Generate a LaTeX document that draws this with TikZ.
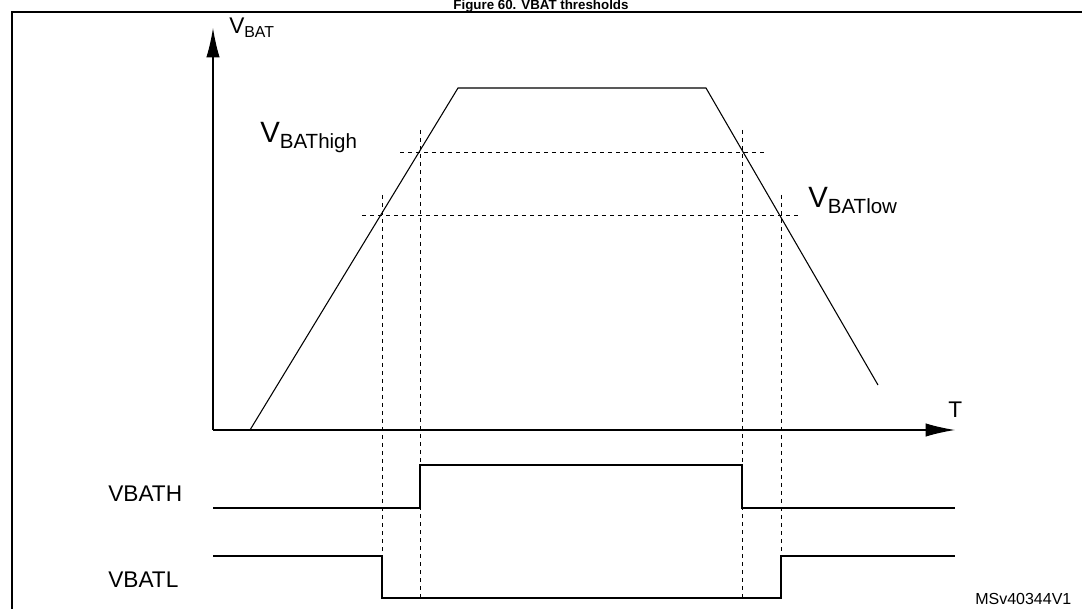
\documentclass[tikz,border=0pt]{standalone}
\usepackage{fontspec}
\setmainfont{Liberation Sans}
\usetikzlibrary{arrows.meta}
\begin{document}
\begin{tikzpicture}[x=0.75pt,y=-0.75pt,
  guide/.style={dashed, thin},
  sig/.style={line width=0.8pt},
  lbl/.style={font=\fontsize{17}{20}\selectfont, inner sep=0pt}]
  \useasboundingbox (0,0) rectangle (1082,609);
  % title and frame
  \node[font=\fontsize{10}{12}\selectfont\bfseries, anchor=base] (title) at (541,10) {Figure 60. VBAT thresholds};
  \draw[line width=1pt] (12,609) -- (12,12) -- (1082,12);
  % axes
  \coordinate (o) at (213,430);
  \coordinate (ytop) at (213,28);
  \coordinate (xend) at (955,430);
  \draw[sig, -{Latex[length=22pt,width=10pt]}] (o) -- (ytop);
  \draw[sig, -{Latex[length=22pt,width=10pt]}] (o) -- (xend);
  \node[lbl, anchor=base west] (vbat) at (229,34) {V\textsubscript{BAT}};
  \node[lbl, anchor=base west] (t) at (948,418) {T};
  % battery voltage
  \draw[sig] (250,430) -- (458,88) -- (706,88) -- (878,385);
  % thresholds
  \draw[guide] (400,152) -- (765,152);
  \draw[guide] (362,215) -- (800,215);
  \node[lbl, anchor=base west, font=\fontsize{22}{26}\selectfont] (hi) at (260,143) {V\textsubscript{BAThigh}};
  \node[lbl, anchor=base west, font=\fontsize{22}{26}\selectfont] (lo) at (808,208) {V\textsubscript{BATlow}};
  \foreach \xx/\yy in {382/195, 420/130, 742/130, 781/195}
    \draw[guide] (\xx,\yy) -- (\xx,598);
  % output signals
  \draw[sig] (213,508) -- (420,508) -- (420,465) -- (742,465) -- (742,508) -- (955,508);
  \draw[sig] (213,556) -- (382,556) -- (382,598) -- (781,598) -- (781,556) -- (955,556);
  \node[lbl, anchor=base west] (vbath) at (108,502) {VBATH};
  \node[lbl, anchor=base west] (vbatl) at (108,587) {VBATL};
  \node[anchor=base west, inner sep=0pt, font=\fontsize{12}{14}\selectfont] (ref) at (975,604) {MSv40344V1};
\end{tikzpicture}
\end{document}
